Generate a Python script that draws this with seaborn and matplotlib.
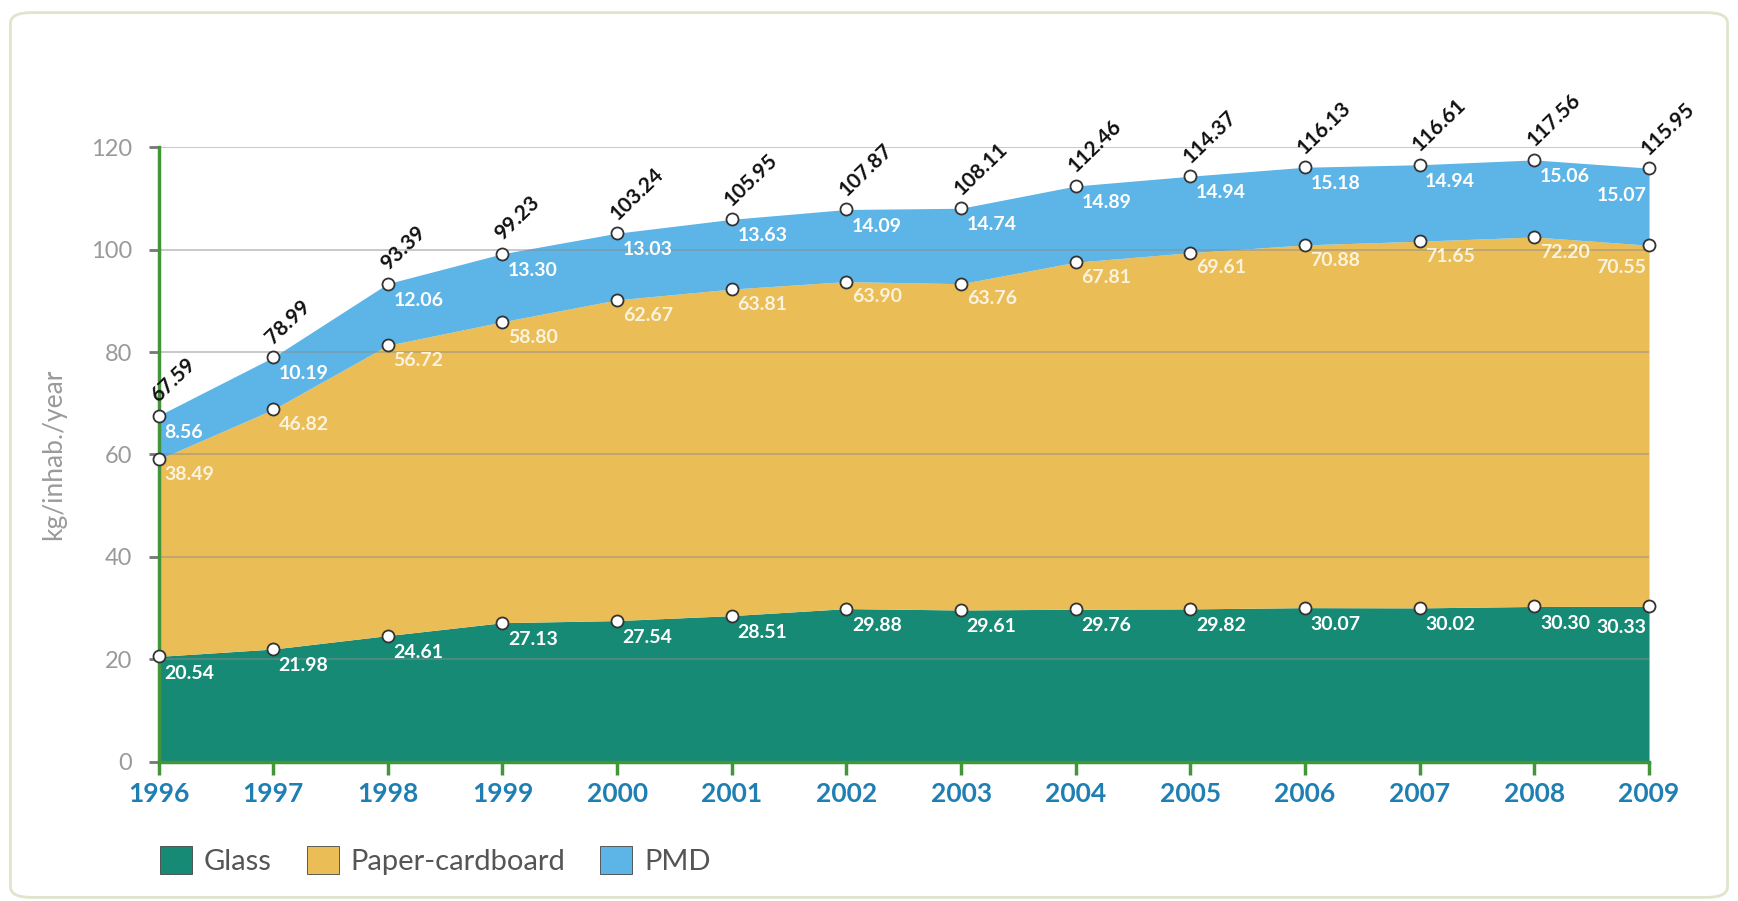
import numpy as np
import matplotlib
matplotlib.use("Agg")
import matplotlib.pyplot as plt
import matplotlib.transforms as mtransforms
import seaborn as sns
from matplotlib.patches import FancyBboxPatch, Patch

# data (kg/inhab./year)
years = [1996, 1997, 1998, 1999, 2000, 2001, 2002, 2003, 2004, 2005, 2006, 2007, 2008, 2009]
glass = [20.54, 21.98, 24.61, 27.13, 27.54, 28.51, 29.88, 29.61, 29.76, 29.82, 30.07, 30.02, 30.30, 30.33]
paper = [38.49, 46.82, 56.72, 58.80, 62.67, 63.81, 63.90, 63.76, 67.81, 69.61, 70.88, 71.65, 72.20, 70.55]
pmd = [8.56, 10.19, 12.06, 13.30, 13.03, 13.63, 14.09, 14.74, 14.89, 14.94, 15.18, 14.94, 15.06, 15.07]
totals = [67.59, 78.99, 93.39, 99.23, 103.24, 105.95, 107.87, 108.11, 112.46, 114.37, 116.13, 116.61, 117.56, 115.95]
series_names = ["Glass", "Paper-cardboard", "PMD"]

colors = ["#168a74", "#eabd56", "#5cb5e6"]
green = "#43953a"

sns.set_style("white")
plt.rcParams["font.family"] = ["Lato", "DejaVu Sans"]

fig = plt.figure(figsize=(17.38, 9.01), dpi=100)
ax = fig.add_axes([0.0912, 0.1548, 0.8576, 0.6816])

# rounded frame around the whole chart
frame = FancyBboxPatch((0.006, 0.004), 0.988, 0.982, boxstyle="round,pad=0,rounding_size=0.012",
                       transform=fig.transFigure, facecolor="none", edgecolor="#dfe5cc", linewidth=2)
fig.patches.append(frame)

ax.stackplot(years, glass, paper, pmd, colors=colors, linewidth=0, zorder=1)

g = np.array(glass)
gp = g + np.array(paper)
tot = gp + np.array(pmd)

for yy in [g, gp, tot]:
    sns.scatterplot(x=years, y=yy, ax=ax, s=75, color="white", edgecolor="#333333",
                    linewidth=1.3, zorder=5, clip_on=False, legend=False)

lab_kw = dict(textcoords="offset points", fontsize=14, fontweight="bold", color="white",
              va="center", zorder=6)
n = len(years)
for i, yr in enumerate(years):
    last = i == n - 1
    ha = "right" if last else "left"
    dx = -2 if last else 4
    ax.annotate(f"{glass[i]:.2f}", (yr, g[i]), xytext=(dx, -12 if not last else -15), ha=ha, **lab_kw)
    ax.annotate(f"{paper[i]:.2f}", (yr, gp[i]), xytext=(dx, -11 if not last else -16), ha=ha,
                **dict(lab_kw, color="#fbf3de"))
    ax.annotate(f"{pmd[i]:.2f}", (yr, tot[i]), xytext=(dx, -12 if not last else -20), ha=ha, **lab_kw)
    # rotated totals above the top points
    tr = mtransforms.offset_copy(ax.transData, fig=fig, x=2, y=7, units="points")
    ax.text(yr, tot[i], f"{totals[i]:.2f}", transform=tr, ha="left", va="bottom",
            rotation=44, rotation_mode="anchor",
            fontsize=15, fontweight="bold", color="#111111", zorder=6)

ax.set_xlim(1996, 2009)
ax.set_ylim(0, 120)
ax.set_yticks(range(0, 121, 20))
ax.set_xticks(years)
ax.set_xticklabels([str(y) for y in years], fontsize=19, fontweight="bold", color="#1f7fb3")
ax.tick_params(axis="y", labelsize=17, labelcolor="#9a9a9a", length=7, width=2, color="#777777",
               direction="out", left=True, pad=12)
ax.tick_params(axis="x", length=9, width=2.5, color=green, direction="out", bottom=True, pad=6)

ax.yaxis.grid(True, color="#8c8c8c", alpha=0.55, linewidth=1.2, zorder=3)
ax.set_axisbelow(False)
for s in ["top", "right"]:
    ax.spines[s].set_visible(False)
for s in ["left", "bottom"]:
    ax.spines[s].set_color(green)
    ax.spines[s].set_linewidth(2.5)
    ax.spines[s].set_zorder(4)

ax.set_ylabel("kg/inhab./year", fontsize=19, color="#9a9a9a", labelpad=18)

handles = [Patch(facecolor=c, edgecolor="#444444", linewidth=0.6) for c in colors]
fig.legend(handles, series_names, loc="center left", bbox_to_anchor=(0.077, 0.045), ncol=3,
           frameon=False, fontsize=21, labelcolor="#555555", handlelength=1.1, handleheight=1.1,
           handletextpad=0.4, columnspacing=1.2)

fig.savefig("out.png", dpi=100, facecolor="white")
